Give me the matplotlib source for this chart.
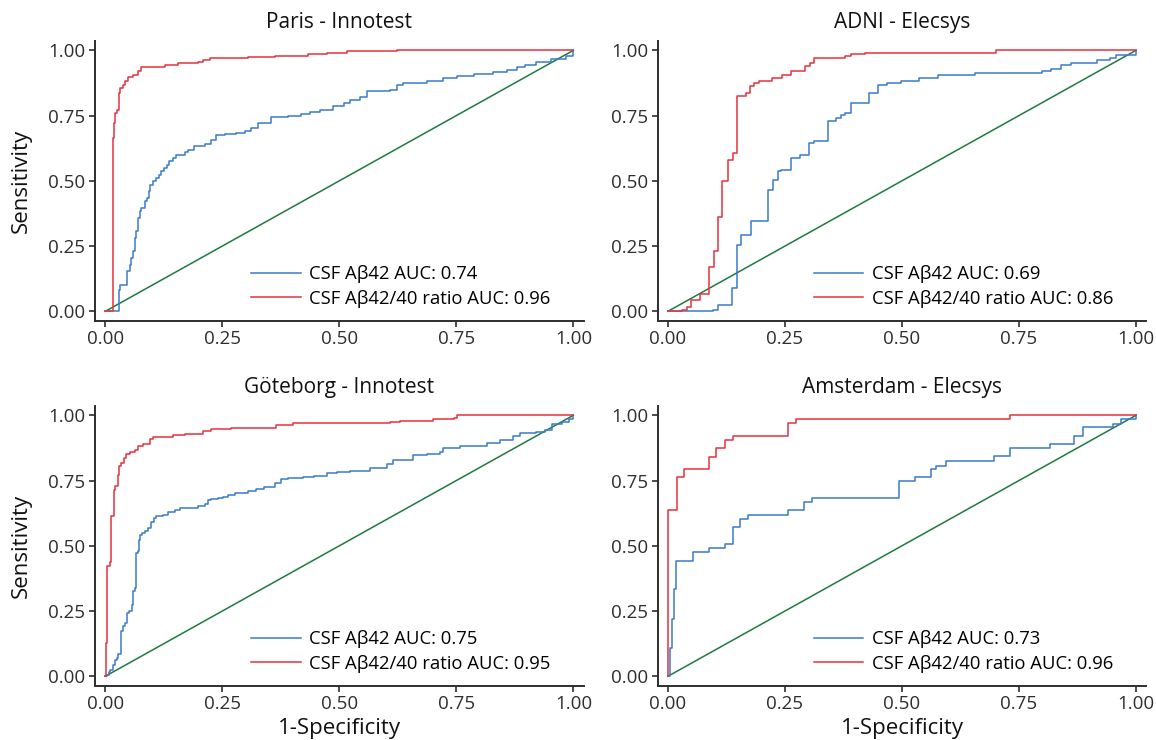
import numpy as np
from matplotlib import pyplot as plt

plt.rcParams['font.family'] = ['Open Sans', 'DejaVu Sans']

# ROC step points (1-specificity, sensitivity)
paris_ab42_x = [0, 0.0285, 0.0285, 0.032, 0.0449, 0.047, 0.052, 0.0556, 0.059, 0.0627, 0.0662, 0.0698,
                0.0734, 0.077, 0.084, 0.0897, 0.0933, 0.0954, 0.102, 0.109, 0.114, 0.120, 0.125, 0.131,
                0.137, 0.145, 0.150, 0.170, 0.177, 0.189, 0.212, 0.226, 0.237, 0.255, 0.280, 0.298, 0.312,
                0.326, 0.355, 0.390, 0.419, 0.437, 0.459, 0.487, 0.509, 0.523, 0.544, 0.559, 0.609, 0.623,
                0.637, 0.687, 0.722, 0.751, 0.787, 0.829, 0.858, 0.879, 0.897, 0.921, 0.952, 0.984, 1.0, 1.0]
paris_ab42_y = [0, 0, 0.083, 0.0996, 0.102, 0.153, 0.179, 0.204, 0.230, 0.281, 0.307, 0.358,
                0.383, 0.396, 0.421, 0.434, 0.460, 0.485, 0.498, 0.511, 0.524, 0.539, 0.549, 0.562,
                0.577, 0.587, 0.600, 0.610, 0.619, 0.632, 0.641, 0.658, 0.674, 0.679, 0.683, 0.690, 0.702,
                0.722, 0.743, 0.747, 0.756, 0.764, 0.772, 0.785, 0.798, 0.811, 0.820, 0.843, 0.849, 0.868,
                0.875, 0.884, 0.894, 0.903, 0.909, 0.917, 0.923, 0.935, 0.945, 0.955, 0.965, 0.978, 0.99, 1.0]
paris_ratio_x = [0, 0.0164, 0.0185, 0.0214, 0.0256, 0.0285, 0.032, 0.0377, 0.0413, 0.0484, 0.059, 0.0698,
                 0.077, 0.127, 0.155, 0.198, 0.209, 0.223, 0.305, 0.362, 0.433, 0.473, 0.516, 0.623, 1.0]
paris_ratio_y = [0, 0.664, 0.722, 0.760, 0.773, 0.837, 0.856, 0.868, 0.884, 0.897, 0.907, 0.920,
                 0.935, 0.945, 0.951, 0.955, 0.964, 0.971, 0.973, 0.977, 0.986, 0.991, 0.996, 1.0, 1.0]

adni_ab42_x = [0, 0.097, 0.108, 0.136, 0.147, 0.156, 0.178, 0.214, 0.224, 0.236, 0.241, 0.263, 0.282,
               0.301, 0.313, 0.341, 0.360, 0.369, 0.379, 0.391, 0.429, 0.449, 0.468, 0.498, 0.537, 0.576,
               0.655, 0.800, 0.818, 0.839, 0.861, 0.917, 0.945, 0.958, 1.0, 1.0]
adni_ab42_y = [0, 0.006, 0.026, 0.089, 0.255, 0.294, 0.345, 0.466, 0.504, 0.536, 0.542, 0.587, 0.600,
               0.645, 0.654, 0.730, 0.741, 0.751, 0.760, 0.798, 0.836, 0.866, 0.875, 0.884, 0.894, 0.904,
               0.913, 0.922, 0.930, 0.942, 0.951, 0.962, 0.972, 0.981, 0.981, 1.0]
adni_ratio_x = [0, 0.030, 0.040, 0.050, 0.069, 0.088, 0.099, 0.108, 0.116, 0.129, 0.138, 0.147, 0.166,
                0.175, 0.183, 0.195, 0.223, 0.243, 0.263, 0.293, 0.303, 0.313, 0.378, 0.392, 0.420, 0.701, 1.0]
adni_ratio_y = [0, 0.006, 0.015, 0.045, 0.067, 0.169, 0.230, 0.360, 0.501, 0.581, 0.607, 0.824, 0.837,
                0.862, 0.875, 0.884, 0.894, 0.904, 0.922, 0.939, 0.951, 0.971, 0.977, 0.986, 0.991, 1.0, 1.0]

gbg_ab42_x = [0, 0.004, 0.007, 0.011, 0.016, 0.020, 0.024, 0.028, 0.034, 0.037, 0.043, 0.047, 0.050,
              0.056, 0.059, 0.063, 0.066, 0.070, 0.073, 0.075, 0.078, 0.084, 0.091, 0.098, 0.104, 0.109,
              0.123, 0.134, 0.148, 0.159, 0.173, 0.198, 0.212, 0.219, 0.226, 0.241, 0.251, 0.262, 0.276,
              0.305, 0.323, 0.340, 0.362, 0.376, 0.390, 0.423, 0.445, 0.473, 0.495, 0.523, 0.566, 0.601,
              0.615, 0.658, 0.687, 0.715, 0.722, 0.758, 0.793, 0.815, 0.843, 0.872, 0.886, 0.92, 0.94,
              0.955, 0.975, 0.99, 1.0]
gbg_ab42_y = [0, 0.006, 0.015, 0.026, 0.045, 0.064, 0.070, 0.087, 0.172, 0.192, 0.204, 0.243, 0.249,
              0.275, 0.326, 0.339, 0.473, 0.479, 0.524, 0.543, 0.549, 0.556, 0.568, 0.590, 0.607, 0.613,
              0.619, 0.628, 0.636, 0.644, 0.646, 0.651, 0.662, 0.674, 0.680, 0.684, 0.687, 0.696, 0.703,
              0.709, 0.718, 0.726, 0.741, 0.754, 0.760, 0.764, 0.769, 0.777, 0.782, 0.785, 0.798, 0.815,
              0.828, 0.846, 0.853, 0.858, 0.875, 0.881, 0.884, 0.892, 0.904, 0.919, 0.932, 0.935, 0.945,
              0.965, 0.975, 0.985, 1.0]
gbg_ratio_x = [0, 0.002, 0.004, 0.009, 0.013, 0.019, 0.021, 0.027, 0.029, 0.034, 0.040, 0.045, 0.052,
               0.063, 0.070, 0.080, 0.095, 0.102, 0.145, 0.170, 0.209, 0.226, 0.269, 0.365, 0.400, 0.608,
               0.629, 0.701, 0.744, 0.751, 1.0]
gbg_ratio_y = [0, 0.128, 0.421, 0.436, 0.613, 0.713, 0.728, 0.773, 0.805, 0.818, 0.837, 0.853, 0.858,
               0.868, 0.881, 0.891, 0.909, 0.915, 0.923, 0.930, 0.939, 0.948, 0.953, 0.962, 0.969, 0.974,
               0.980, 0.986, 0.990, 1.0, 1.0]

ams_ab42_x = [0, 0.004, 0.008, 0.012, 0.017, 0.053, 0.087, 0.121, 0.138, 0.154, 0.172, 0.256, 0.290,
              0.308, 0.493, 0.527, 0.562, 0.573, 0.594, 0.697, 0.731, 0.816, 0.868, 0.886, 0.951, 0.969,
              1.0, 1.0]
ams_ab42_y = [0, 0.11, 0.22, 0.333, 0.443, 0.475, 0.492, 0.508, 0.572, 0.604, 0.619, 0.636, 0.668,
              0.683, 0.747, 0.764, 0.794, 0.804, 0.824, 0.845, 0.875, 0.891, 0.922, 0.954, 0.965, 0.985,
              0.985, 1.0]
ams_ratio_x = [0, 0.0, 0.019, 0.035, 0.087, 0.103, 0.121, 0.138, 0.256, 0.273, 0.731, 1.0]
ams_ratio_y = [0, 0.636, 0.764, 0.794, 0.840, 0.875, 0.904, 0.922, 0.971, 0.987, 1.0, 1.0]

titles = ['Paris - Innotest', 'ADNI - Elecsys', 'Göteborg - Innotest', 'Amsterdam - Elecsys']
auc_ab42 = [0.74, 0.69, 0.75, 0.73]
auc_ratio = [0.96, 0.86, 0.95, 0.96]
blue_x = [paris_ab42_x, adni_ab42_x, gbg_ab42_x, ams_ab42_x]
blue_y = [paris_ab42_y, adni_ab42_y, gbg_ab42_y, ams_ab42_y]
red_x = [paris_ratio_x, adni_ratio_x, gbg_ratio_x, ams_ratio_x]
red_y = [paris_ratio_y, adni_ratio_y, gbg_ratio_y, ams_ratio_y]

ticks = [0, 0.25, 0.5, 0.75, 1.0]
tick_labels = ['0.00', '0.25', '0.50', '0.75', '1.00']

blue = '#3a7bc8'
red = '#e6323d'
green = '#1f7a40'
dark = '#2e2e2e'

fig = plt.figure(figsize=(11.56, 7.40), dpi=100)
rects = [[0.0822, 0.5666, 0.4227, 0.3781],
         [0.5689, 0.5666, 0.4227, 0.3781],
         [0.0822, 0.0734, 0.4227, 0.3781],
         [0.5689, 0.0734, 0.4227, 0.3781]]

for i in range(4):
    ax = fig.add_axes(rects[i])
    ax.plot([0, 1], [0, 1], color=green, lw=1.1)
    ax.plot(blue_x[i], blue_y[i], drawstyle='steps-post', color=blue, lw=1.1,
            label='CSF A\u03b242 AUC: ' + str(auc_ab42[i]))
    ax.plot(red_x[i], red_y[i], drawstyle='steps-post', color=red, lw=1.1,
            label='CSF A\u03b242/40 ratio AUC: ' + str(auc_ratio[i]))
    ax.set_xlim(-0.022, 1.022)
    ax.set_ylim(-0.036, 1.036)
    ax.set_xticks(ticks)
    ax.set_xticklabels(tick_labels)
    ax.set_yticks(ticks)
    ax.set_yticklabels(tick_labels)
    ax.tick_params(labelsize=13.5, colors=dark, length=4, width=1.2, pad=3)
    for s in ['top', 'right']:
        ax.spines[s].set_visible(False)
    for s in ['left', 'bottom']:
        ax.spines[s].set_color(dark)
        ax.spines[s].set_linewidth(1.4)
    ax.set_title(titles[i], fontsize=15, color='#111111', pad=9)
    if i % 2 == 0:
        ax.set_ylabel('Sensitivity', fontsize=16, color='#111111', labelpad=12)
    if i >= 2:
        ax.set_xlabel('1-Specificity', fontsize=16, color='#111111', labelpad=3)
    ax.legend(loc='center left', bbox_to_anchor=(0.319, 0.123),
              frameon=False, fontsize=13.3, handlelength=2.7, handletextpad=0.45,
              borderpad=0, borderaxespad=0, labelspacing=0.35)

fig.savefig('out.png', dpi=100)
